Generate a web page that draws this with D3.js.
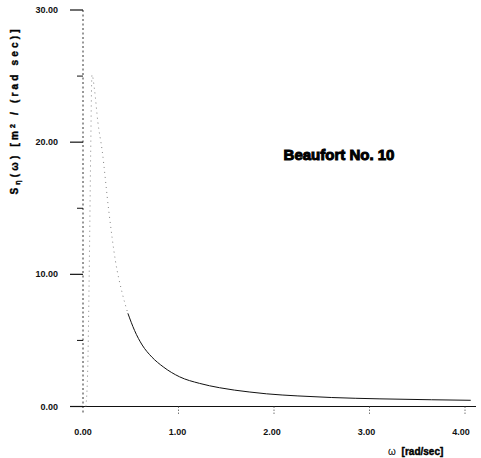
<!DOCTYPE html>
<html>
<head>
<meta charset="utf-8">
<script src="https://cdn.jsdelivr.net/npm/d3@7"></script>
<style>
  body { margin: 0; background: #fff; }
  svg { display: block; }
  .tick-label { font-family: "Liberation Sans", Arial, sans-serif; font-size: 9px; font-weight: bold; fill: #111; }
</style>
</head>
<body>
<div id="chart"></div>
<script>
// spectrum: omega [rad/sec] vs S(omega)
const omega = [0.03, 0.05, 0.065, 0.08, 0.094, 0.12, 0.156, 0.2, 0.27, 0.34, 0.41, 0.47, 0.54, 0.62, 0.72, 0.84, 1.01, 1.22, 1.43, 1.74, 1.92, 2.25, 2.6, 3.1, 3.65, 4.06];
const spectrum = [0, 3, 10, 19, 25.1, 24.0, 21.5, 19.4, 14.8, 11.0, 8.6, 7.05, 5.75, 4.65, 3.75, 3.0, 2.25, 1.75, 1.42, 1.1, 0.96, 0.8, 0.68, 0.58, 0.51, 0.47];
const xTicks = [0, 1, 2, 3, 4];
const yTicks = [0, 10, 20, 30];
const yMinorTicks = [5, 15, 25];
const title = "Beaufort No. 10";
const solidFrom = 0.47; // below this the printed curve is faint / dotted

const data = omega.map((w, i) => ({w: w, s: spectrum[i]}));

const width = 481, height = 458;
const svg = d3.select("#chart").append("svg")
  .attr("width", width)
  .attr("height", height);

const x = d3.scaleLinear().domain([0, 4]).range([83, 465]);
const y = d3.scaleLinear().domain([0, 30]).range([406.5, 10]);

// y axis (dotted, like the scan)
svg.append("line")
  .attr("x1", x(0)).attr("x2", x(0))
  .attr("y1", y(30)).attr("y2", y(0) + 8)
  .attr("stroke", "#333").attr("stroke-width", 1)
  .attr("stroke-dasharray", "2,2.5");

// x axis
svg.append("line")
  .attr("x1", 70).attr("x2", 476)
  .attr("y1", y(0)).attr("y2", y(0))
  .attr("stroke", "#111").attr("stroke-width", 1);

// major y ticks
svg.selectAll("line.ytick")
  .data(yTicks)
  .enter()
  .append("line")
  .attr("class", "ytick")
  .attr("x1", 70).attr("x2", x(0))
  .attr("y1", d => y(d)).attr("y2", d => y(d))
  .attr("stroke", "#111").attr("stroke-width", 1.2);

svg.selectAll("line.yminor")
  .data(yMinorTicks)
  .enter()
  .append("line")
  .attr("class", "yminor")
  .attr("x1", 77).attr("x2", x(0))
  .attr("y1", d => y(d)).attr("y2", d => y(d))
  .attr("stroke", "#111").attr("stroke-width", 1);

svg.selectAll("text.ylab")
  .data(yTicks)
  .enter()
  .append("text")
  .attr("class", "ylab tick-label")
  .attr("x", 58)
  .attr("y", d => y(d) + 3)
  .attr("text-anchor", "end")
  .text(d => d.toFixed(2));

// x ticks
svg.selectAll("line.xtick")
  .data(xTicks.slice(1))
  .enter()
  .append("line")
  .attr("class", "xtick")
  .attr("x1", d => x(d)).attr("x2", d => x(d))
  .attr("y1", y(0)).attr("y2", y(0) + 8)
  .attr("stroke", "#555").attr("stroke-width", 0.8)
  .attr("stroke-dasharray", "1.5,1.5");

svg.selectAll("text.xlab")
  .data(xTicks)
  .enter()
  .append("text")
  .attr("class", "xlab tick-label")
  .attr("x", d => x(d) - d * 1)
  .attr("y", y(0) + 28)
  .attr("text-anchor", "middle")
  .text(d => d.toFixed(2));

// curve
const line = d3.line()
  .x(d => x(d.w))
  .y(d => y(d.s))
  .curve(d3.curveMonotoneX);

svg.append("path")
  .datum(data.filter(d => d.w <= solidFrom))
  .attr("d", line)
  .attr("fill", "none")
  .attr("stroke", "#777")
  .attr("stroke-width", 0.9)
  .attr("stroke-dasharray", "1,4");

svg.append("path")
  .datum(data.filter(d => d.w >= solidFrom))
  .attr("d", line)
  .attr("fill", "none")
  .attr("stroke", "#111")
  .attr("stroke-width", 1);

// title
svg.append("text")
  .attr("x", 339)
  .attr("y", 160)
  .attr("text-anchor", "middle")
  .attr("font-family", "Liberation Sans, Arial, sans-serif")
  .attr("font-size", 15)
  .attr("font-weight", "bold")
  .attr("stroke", "#000")
  .attr("stroke-width", 1)
  .attr("fill", "#000")
  .text(title);

// y axis label
const yl = svg.append("text")
  .attr("transform", "translate(18,112) rotate(-90)")
  .attr("text-anchor", "middle")
  .attr("font-family", "Liberation Sans, Arial, sans-serif")
  .attr("font-size", 10)
  .attr("font-weight", "bold")
  .attr("stroke", "#000")
  .attr("stroke-width", 0.4)
  .attr("textLength", 165)
  .attr("lengthAdjust", "spacing");
yl.append("tspan").text("S");
yl.append("tspan").attr("font-size", 7).attr("dy", 2).text("η");
yl.append("tspan").attr("dy", -2).text("(ω)  [m");
yl.append("tspan").attr("font-size", 7).attr("dy", -3).text("2");
yl.append("tspan").attr("dy", 3).text(" / (rad sec)]");

// x axis label
const xl = svg.append("text")
  .attr("x", 388)
  .attr("y", 455)
  .attr("font-family", "Liberation Sans, Arial, sans-serif")
  .attr("font-size", 10)
  .attr("fill", "#000");
xl.append("tspan").text("ω ");
xl.append("tspan").attr("dx", 3).attr("font-weight", "bold")
  .attr("stroke", "#000").attr("stroke-width", 0.4).text("[rad/sec]");
</script>
</body>
</html>
